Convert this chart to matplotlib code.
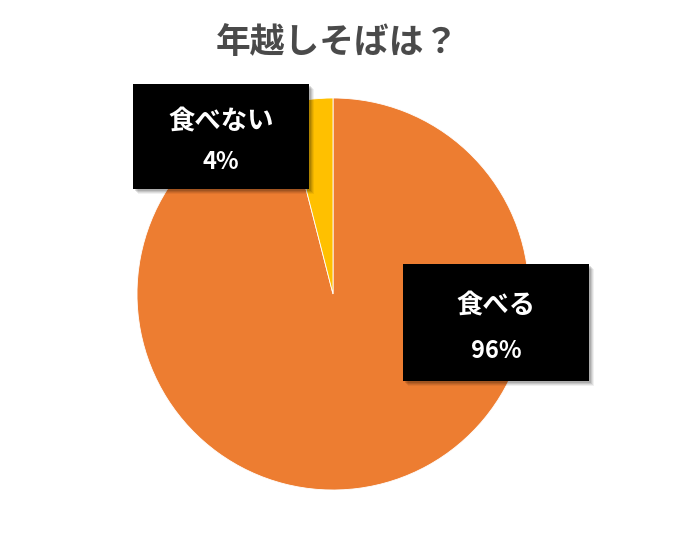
import matplotlib.pyplot as plt
from matplotlib.patches import Rectangle

plt.rcParams['font.family'] = ['Noto Sans CJK JP', 'DejaVu Sans']

title = "年越しそばは？"
labels = ["食べる", "食べない"]
values = [96, 4]
colors = ["#ED7D31", "#FFC000"]

W, H = 681, 540
fig = plt.figure(figsize=(W / 100, H / 100), dpi=100)
ax = fig.add_axes([0, 0, 1, 1])

# pie in pixel coordinates (y measured from bottom)
ax.pie(values, colors=colors, startangle=90, counterclock=False,
       center=(333, H - 294), radius=196,
       wedgeprops=dict(edgecolor="white", linewidth=0.6))

ax.set_xlim(0, W)
ax.set_ylim(0, H)
ax.set_aspect("equal")
ax.axis("off")

# label boxes: (x0, y0_top, x1, y1_bottom) in image pixels
boxes = [(403, 264, 589, 381), (133, 84, 309, 189)]
for (x0, y0, x1, y1), lab, val in zip(boxes, labels, values):
    # soft shadow
    for k, a in [(5, 0.06), (4, 0.08), (3, 0.1), (2, 0.12)]:
        ax.add_patch(Rectangle((x0 + k, H - y1 - k), x1 - x0, y1 - y0,
                               facecolor="black", edgecolor="none",
                               alpha=a, zorder=4))
    ax.add_patch(Rectangle((x0, H - y1), x1 - x0, y1 - y0,
                           facecolor="black", edgecolor="none", zorder=5))
    cx = (x0 + x1) / 2
    hgt = y1 - y0
    ax.text(cx, H - (y0 + hgt * 0.36), lab, color="white", fontsize=19,
            fontweight="bold", ha="center", va="center", zorder=6)
    ax.text(cx, H - (y0 + hgt * 0.74), f"{val}%", color="white", fontsize=17,
            fontweight="bold", ha="center", va="center", zorder=6)

ax.text(337, H - 42, title, color="#4a4a4a", fontsize=25, fontweight="bold",
        ha="center", va="center")

fig.savefig("out.png", dpi=100)
